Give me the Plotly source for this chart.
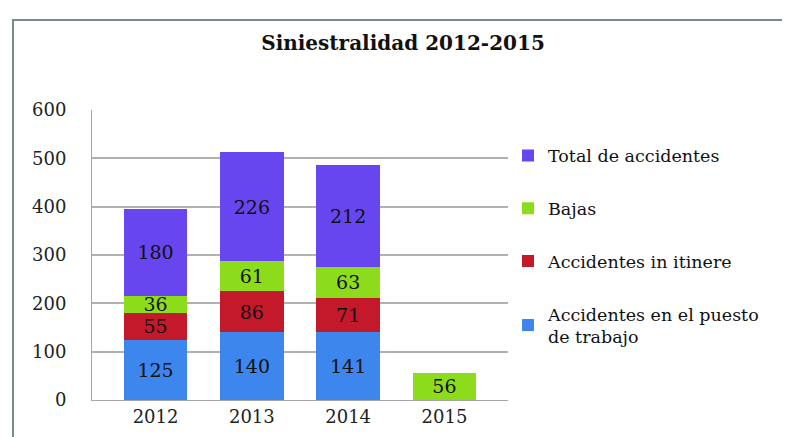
import plotly.graph_objects as go

years = ["2012", "2013", "2014", "2015"]
puesto = [125, 140, 141, None]
itinere = [55, 86, 71, None]
bajas = [36, 61, 63, 56]
total = [180, 226, 212, None]
y_ticks = [0, 100, 200, 300, 400, 500, 600]

series = [
    ("Accidentes en el puesto<br>de trabajo", puesto, "#3d86ee", 4),
    ("Accidentes in itinere", itinere, "#c4182b", 3),
    ("Bajas", bajas, "#8ddc1c", 2),
    ("Total de accidentes", total, "#6846ef", 1),
]

FONT = "DejaVu Serif"
fig = go.Figure()
for i, (name, vals, col, rank) in enumerate(series):
    fig.add_trace(go.Bar(
        x=years, y=vals, name=name, legendgroup=str(i), legendrank=rank,
        marker=dict(color=col, line=dict(width=0)),
        text=[str(v) if v is not None else "" for v in vals],
        textposition="inside", insidetextanchor="middle", textangle=0,
        constraintext="none",
        textfont=dict(family=FONT, size=19, color="#111111"),
        width=0.66,
    ))

fig.update_layout(
    width=790, height=437,
    barmode="stack",
    uniformtext=dict(minsize=19, mode="show"),
    paper_bgcolor="white", plot_bgcolor="white",
    margin=dict(l=84, r=290, t=102, b=45),
    title=dict(text="<b>Siniestralidad 2012-2015</b>", x=0.5, xanchor="center",
               y=0.92, yanchor="middle",
               font=dict(family=FONT, size=20, color="#111111")),
    font=dict(family=FONT, color="#222222"),
    showlegend=True,
    legend=dict(x=1.0, xanchor="left", y=0.905, yanchor="top",
                traceorder="grouped", tracegroupgap=27,
                font=dict(family=FONT, size=17.5, color="#111111"),
                itemwidth=30),
    xaxis=dict(range=[-0.66, 3.66], showgrid=False, zeroline=False,
               showline=True, linecolor="#a6a6a6",
               tickfont=dict(family=FONT, size=18, color="#222222"), ticks=""),
    yaxis=dict(range=[0, 600], tickvals=y_ticks, showgrid=True,
               gridcolor="#b0b0b0", gridwidth=1.5, zeroline=False,
               showline=True, linecolor="#a6a6a6",
               tickfont=dict(family=FONT, size=18, color="#222222"),
               ticks="", ticklabelstandoff=21),
)

# chart frame
fig.add_shape(type="rect", xref="paper", yref="paper",
              x0=(5 - 84) / 416, x1=(792 - 84) / 416,
              y0=-(439 - 392) / 290, y1=1 + (102 - 12) / 290,
              line=dict(color="#7a8a8a", width=2), fillcolor="rgba(0,0,0,0)",
              layer="below")

fig.write_html("out.html")
